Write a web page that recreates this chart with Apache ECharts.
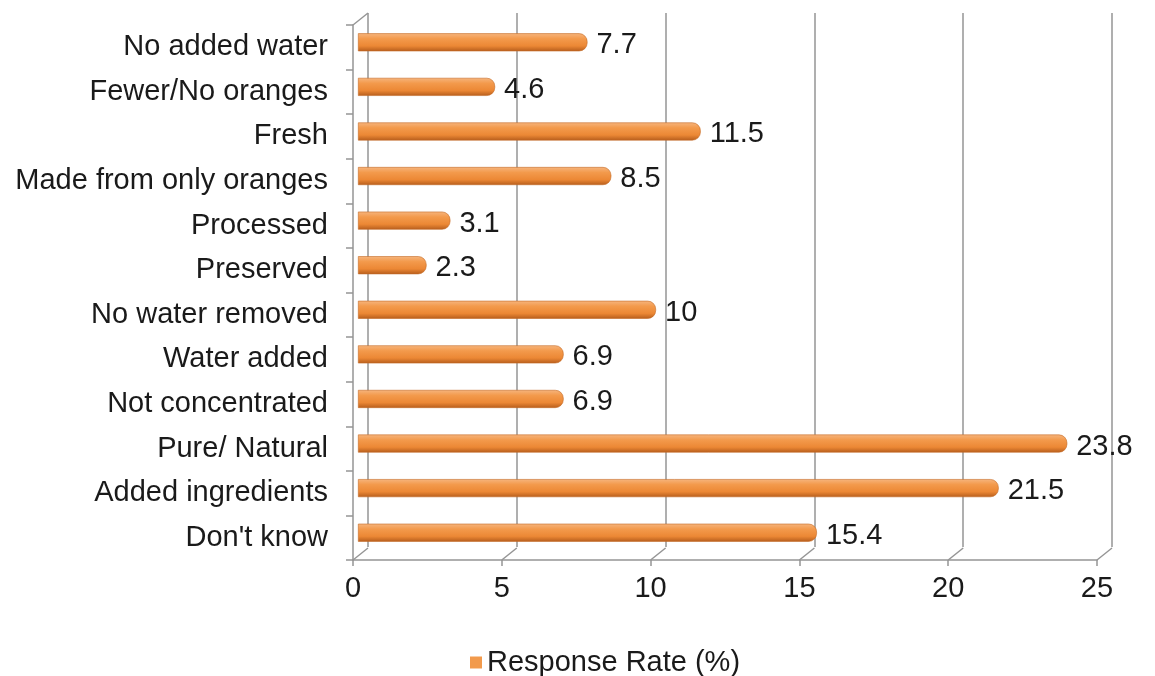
<!DOCTYPE html>
<html>
<head>
<meta charset="utf-8">
<script src="https://cdn.jsdelivr.net/npm/echarts@6/dist/echarts.min.js"></script>
<style>html,body{margin:0;padding:0;background:#fff}#c{width:1155px;height:676px}</style>
</head>
<body>
<div id="c"></div>
<script>
const categories = ["No added water","Fewer/No oranges","Fresh","Made from only oranges","Processed","Preserved","No water removed","Water added","Not concentrated","Pure/ Natural","Added ingredients","Don't know"];
const responseRate = [7.7, 4.6, 11.5, 8.5, 3.1, 2.3, 10, 6.9, 6.9, 23.8, 21.5, 15.4];
const xTicks = [0, 5, 10, 15, 20, 25];
const seriesName = "Response Rate (%)";

const FONT = 'Liberation Sans, Arial, sans-serif';
const GRAY = '#959595';
const chart = echarts.init(document.getElementById('c'));

chart.setOption({
  backgroundColor: '#fff',
  animation: false,
  textStyle: { fontFamily: FONT },
  legend: {
    data: [{ name: seriesName, itemStyle: { color: '#f29a4c', borderWidth: 0 } }],
    left: 465, top: 643,
    itemWidth: 12, itemHeight: 12, itemGap: 10,
    icon: 'rect',
    textStyle: { fontSize: 29, color: '#1a1a1a', fontFamily: FONT }
  },
  grid: [
    { left: 353, right: 58, top: 25, bottom: 116 },   // front
    { left: 368, right: 43, top: 13, bottom: 129 },   // back wall
    { left: 358, right: 52, top: 20, bottom: 121 }    // bars
  ],
  xAxis: [
    { gridIndex: 0, type: 'value', min: 0, max: 25, interval: 5,
      axisLine: { show: true, lineStyle: { color: GRAY, width: 1.5 } },
      axisTick: { show: true, length: 6, lineStyle: { color: GRAY, width: 1.5 } },
      axisLabel: { fontSize: 29, color: '#1a1a1a', margin: 14, fontFamily: FONT },
      splitLine: { show: false } },
    { gridIndex: 1, type: 'value', min: 0, max: 25, interval: 5,
      axisLine: { show: false }, axisTick: { show: false }, axisLabel: { show: false },
      splitLine: { show: true, lineStyle: { color: GRAY, width: 1.5 } } },
    { gridIndex: 2, type: 'value', min: 0, max: 25, interval: 5, show: false }
  ],
  yAxis: [
    { gridIndex: 0, type: 'category', data: categories, inverse: true,
      axisLine: { show: true, lineStyle: { color: GRAY, width: 1.5 } },
      axisTick: { show: true, length: 7, lineStyle: { color: GRAY, width: 1.5 } },
      axisLabel: { fontSize: 29, color: '#1a1a1a', margin: 25, fontFamily: FONT } },
    { gridIndex: 1, type: 'category', data: categories, inverse: true, show: false },
    { gridIndex: 2, type: 'category', data: categories, inverse: true, show: false }
  ],
  series: [
    {
      type: 'custom', xAxisIndex: 0, yAxisIndex: 0, silent: true,
      data: xTicks,
      renderItem: function (params, api) {
        const cs = params.coordSys;
        const x = api.coord([api.value(0), 0])[0];
        const yb = cs.y + cs.height;
        const children = [{
          type: 'line',
          shape: { x1: x, y1: yb, x2: x + 15, y2: yb - 12 },
          style: { stroke: GRAY, lineWidth: 1.5 }
        }];
        if (params.dataIndex === 0) {
          children.push({
            type: 'line',
            shape: { x1: x, y1: cs.y, x2: x + 15, y2: cs.y - 12 },
            style: { stroke: GRAY, lineWidth: 1.5 }
          });
        }
        return { type: 'group', children: children };
      }
    },
    {
      name: seriesName, type: 'bar', xAxisIndex: 2, yAxisIndex: 2,
      data: responseRate, barWidth: 18,
      itemStyle: {
        color: new echarts.graphic.LinearGradient(0, 0, 0, 1, [
          { offset: 0, color: '#f6b57e' },
          { offset: 0.3, color: '#f39a4c' },
          { offset: 0.7, color: '#ec8835' },
          { offset: 1, color: '#b65d1c' }
        ]),
        borderColor: '#c46a25', borderWidth: 0.6,
        borderRadius: [0, 8, 8, 0]
      },
      label: { show: true, position: 'right', distance: 9, offset: [0, 3], fontSize: 29, color: '#1a1a1a', fontFamily: FONT }
    }
  ]
});
</script>
</body>
</html>
